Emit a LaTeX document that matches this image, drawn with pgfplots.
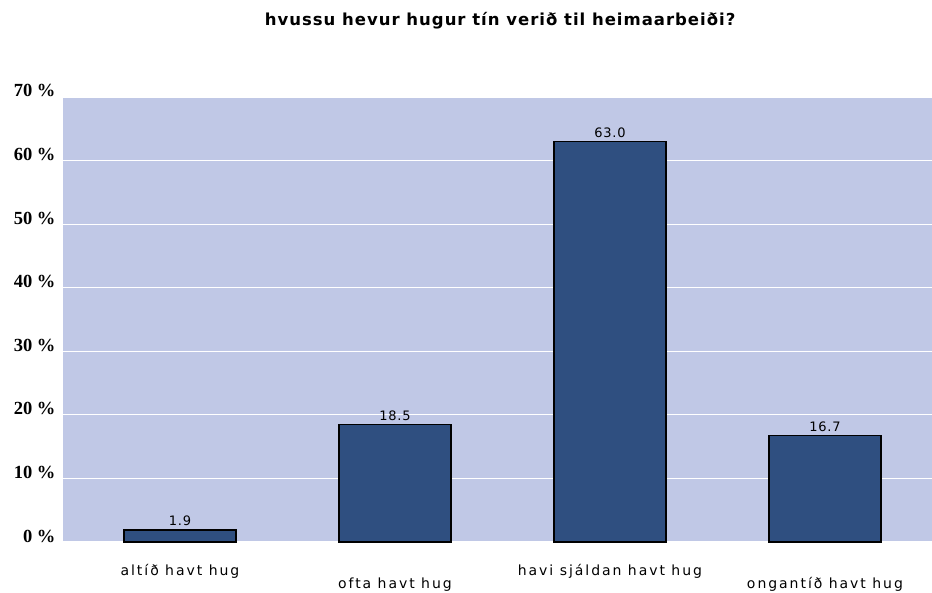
\documentclass[border=0pt]{standalone}
\usepackage{fontspec}
\usepackage{pgfplots}
\pgfplotsset{compat=1.18}
\setmainfont{DejaVu Sans}
\newfontfamily\lblfont[LetterSpace=14]{DejaVu Sans}
\newfontfamily\valfont[LetterSpace=6]{DejaVu Sans}
\newfontfamily\ttlfont[LetterSpace=6]{DejaVu Sans}
\newfontfamily\yfont{Liberation Serif}
\definecolor{plotbg}{RGB}{192,200,230}
\definecolor{barblue}{RGB}{47,79,128}
\begin{document}
\begin{tikzpicture}
\begin{axis}[
  scale only axis,
  width=869pt, height=445pt,
  at={(0,0)}, anchor=south west,
  xmin=-0.544, xmax=3.498,
  ymin=0, ymax=70,
  /pgf/number format/assume math mode=true,
  axis background/.style={fill=plotbg},
  axis line style={draw=none},
  ymajorgrids,
  grid style={white, line width=1.2pt},
  major tick length=0pt,
  ytick={0,10,20,30,40,50,60,70},
  yticklabels={0 \%,10 \%,20 \%,30 \%,40 \%,50 \%,60 \%,70 \%},
  yticklabel style={anchor=base east, font=\yfont\bfseries\fontsize{18.5}{18.5}\selectfont, xshift=-4pt},
  xtick={0,2},
  xticklabels={altíð havt hug, havi sjáldan havt hug},
  xticklabel style={anchor=base, font=\lblfont\fontsize{14}{14}\selectfont, yshift=-33pt, inner sep=0pt},
  extra x ticks={1,3},
  extra x tick labels={ofta havt hug, ongantíð havt hug},
  extra x tick style={xticklabel style={yshift=-13pt}, grid=none},
  clip=false,
  ybar,
  bar width=112pt,
  nodes near coords={\pgfmathprintnumber[fixed,fixed zerofill,precision=1]{\pgfplotspointmeta}},
  nodes near coords style={font=\valfont\fontsize{13}{13}\selectfont, anchor=base, yshift=4pt, inner sep=0pt},
]
\addplot[fill=barblue, draw=black, line width=1.2pt] coordinates {(0,1.9) (1,18.5) (2,63.0) (3,16.7)};
\node[font=\ttlfont\bfseries\fontsize{16.5}{16.5}\selectfont, anchor=base] at (rel axis cs:0.503,1) [yshift=71pt] {hvussu hevur hugur tín verið til heimaarbeiði?};
\end{axis}
\pgfresetboundingbox
\path[use as bounding box] (-63pt,-50pt) rectangle (869pt,542pt);
\end{tikzpicture}
\end{document}
